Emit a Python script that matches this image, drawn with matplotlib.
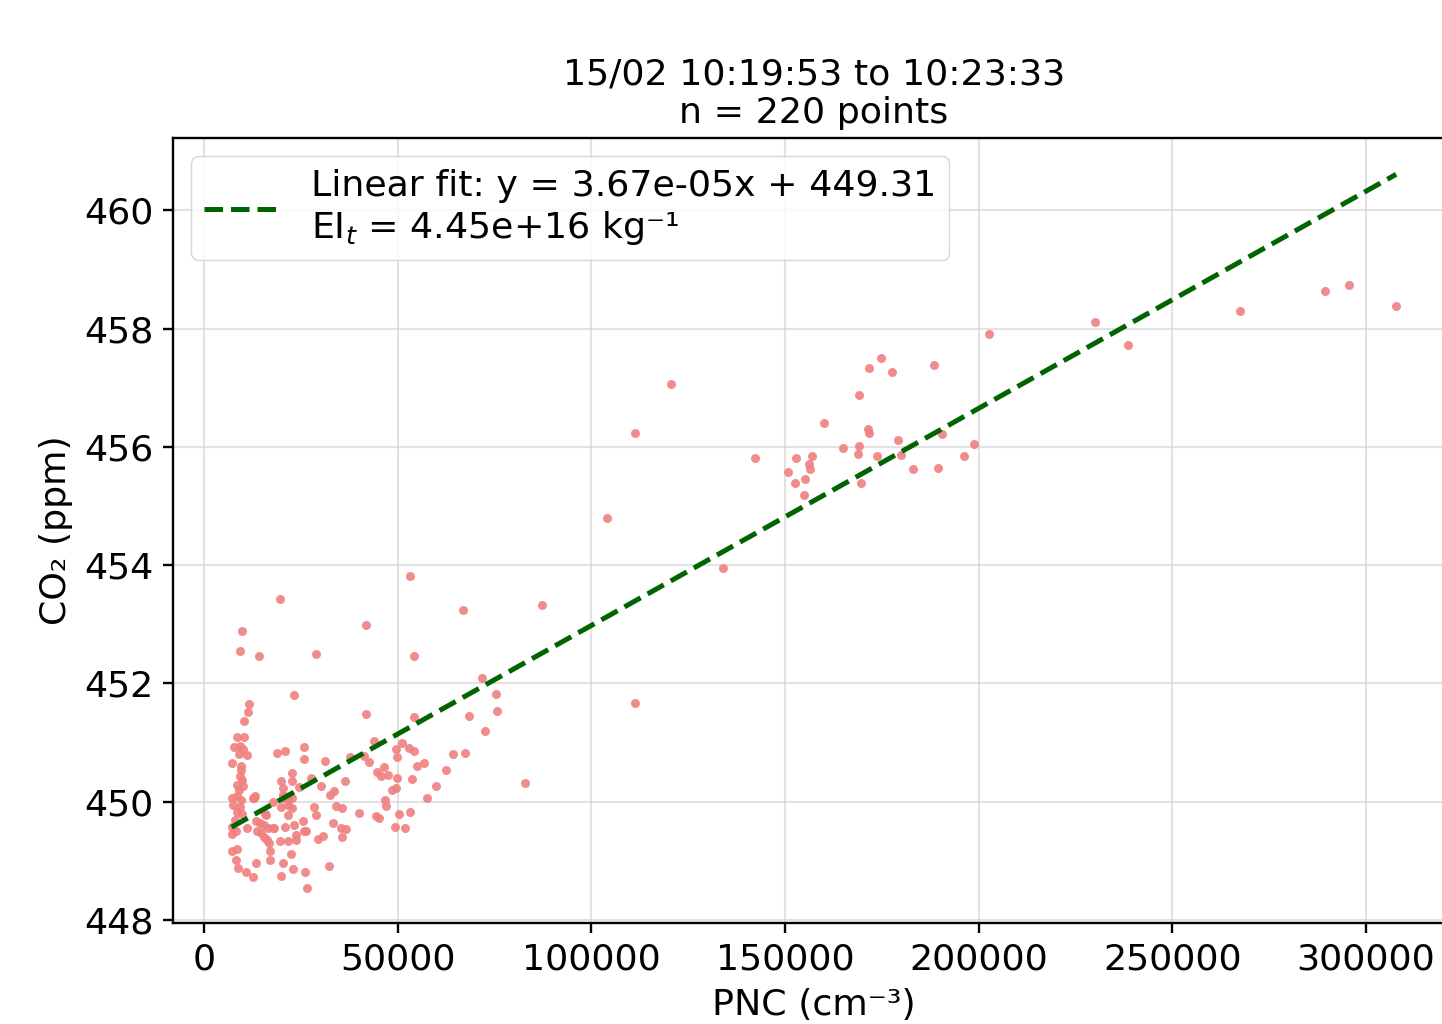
import numpy as np
import matplotlib
matplotlib.use("Agg")
import matplotlib.pyplot as plt

# values
pnc = [
    230000, 238500, 267400, 289400, 295600, 307800, 202700, 174900, 171700, 177600,
    188500, 169100, 160000, 171500, 171700, 179200, 190500, 198700, 164900, 169100,
    168800, 173700, 180000, 196300, 183000, 189500, 169700, 156900, 152800, 156200,
    156500, 150900, 155300, 152500, 154900, 142300, 120500, 111400, 104100, 134100,
    111400,
    53300, 66900, 87200, 41700, 28900, 54100, 41800, 54300, 71800, 75500,
    75700, 68500, 72500, 64200, 67500, 62400, 60000, 57600, 82900, 25800,
    25800, 31200, 27500, 24500, 30300, 33500, 32400, 36500, 37800, 41200,
    42600, 43900, 44600, 45700, 46500, 47600, 49500, 49700, 51200, 53000,
    54300, 55100, 56900, 49700, 53700, 48600, 49600, 46800, 47000, 28400,
    28900, 25600, 25800, 26400, 29300, 30700, 33300, 34200, 35500, 35400,
    36600, 35600, 40000, 44500, 45100, 49200, 50400, 51900, 53200, 26000,
    32300, 26600,
    19500, 9700, 9400, 14300, 23300, 11600, 11300, 10300, 8400, 10300,
    7800, 9400, 10100, 11200, 9100, 7300, 9500, 9500, 9300, 9700,
    10000, 8400, 9000, 8400, 7300, 9500, 7600, 9300, 8400, 9900,
    7900, 7100, 8200, 7100, 11200, 12700, 13100, 13400, 14500, 15500,
    13600, 14600, 15800, 16400, 15500, 16200, 16800, 17100, 17100, 17900,
    19500, 20500, 20000, 22400, 23100, 21800, 23700, 23700, 20900, 23300,
    21800, 17800, 20000, 20500, 20500, 22800, 21700, 22800, 20000, 20400,
    22600, 22600, 18800, 20900, 13400, 10800, 8800, 8200, 7300, 8600,
    12700, 21800, 16000, 12800, 18000,
]
co2 = [
    458.11, 457.72, 458.30, 458.63, 458.73, 458.38, 457.91, 457.51, 457.34, 457.27,
    457.38, 456.87, 456.41, 456.30, 456.24, 456.11, 456.22, 456.05, 455.98, 456.02,
    455.88, 455.84, 455.86, 455.85, 455.62, 455.64, 455.39, 455.85, 455.81, 455.71,
    455.62, 455.57, 455.45, 455.39, 455.18, 455.81, 457.06, 456.23, 454.80, 453.95,
    451.67,
    453.82, 453.25, 453.32, 452.99, 452.50, 452.47, 451.48, 451.44, 452.10, 451.83,
    451.53, 451.45, 451.20, 450.81, 450.83, 450.54, 450.27, 450.06, 450.32, 450.93,
    450.72, 450.69, 450.41, 450.25, 450.27, 450.19, 450.11, 450.35, 450.75, 450.77,
    450.67, 451.03, 450.51, 450.43, 450.58, 450.45, 450.90, 450.76, 451.00, 450.91,
    450.86, 450.61, 450.65, 450.40, 450.38, 450.20, 450.23, 450.03, 449.92, 449.91,
    449.77, 449.67, 449.50, 449.50, 449.37, 449.42, 449.64, 449.93, 449.89, 449.56,
    449.54, 449.41, 449.81, 449.76, 449.73, 449.58, 449.80, 449.56, 449.83, 448.81,
    448.91, 448.55,
    453.43, 452.88, 452.55, 452.46, 451.81, 451.66, 451.51, 451.37, 451.10, 451.10,
    450.92, 450.94, 450.89, 450.79, 450.81, 450.65, 450.61, 450.53, 450.44, 450.36,
    450.27, 450.28, 450.20, 450.10, 450.06, 450.03, 449.94, 449.91, 449.83, 449.80,
    449.69, 449.58, 449.50, 449.45, 449.56, 450.07, 450.10, 449.67, 449.64, 449.60,
    449.50, 449.47, 449.80, 449.55, 449.41, 449.36, 449.30, 449.16, 449.02, 449.56,
    449.33, 448.96, 448.74, 449.11, 448.86, 449.33, 449.36, 449.44, 449.58, 449.61,
    449.78, 450.00, 449.91, 450.06, 450.12, 450.06, 449.94, 449.89, 450.35, 450.24,
    450.49, 450.35, 450.82, 450.86, 448.96, 448.82, 448.88, 449.02, 449.17, 449.20,
    448.72, 450.03, 449.78, 450.06, 449.56,
]
slope = 3.67e-05
intercept = 449.31
ei_t = "4.45e+16"
title = "15/02 10:19:53 to 10:23:33\nn = 220 points"

fs = 26.2
plt.rcParams.update({
    "font.size": fs,
    "axes.linewidth": 1.7,
    "xtick.major.size": 7,
    "ytick.major.size": 7,
    "xtick.major.width": 1.7,
    "ytick.major.width": 1.7,
    "xtick.major.pad": 7,
    "ytick.major.pad": 7,
})

fig = plt.figure(figsize=(14.42, 10.24), dpi=100)
ax = fig.add_axes([0.120, 0.0986, 0.889, 0.7666])

x = np.array(pnc)
y = np.array(co2)
ax.scatter(x, y, s=42, color="#F08080", alpha=0.9, linewidths=0, zorder=2)

xf = np.linspace(x.min(), x.max(), 100)
ax.plot(xf, slope * xf + intercept, "--", color="darkgreen", lw=3.6,
        label=f"Linear fit: y = {slope:.2e}x + {intercept:.2f}\nEI$_t$ = {ei_t} kg\u207b\u00b9",
        zorder=3)

ax.set_xlim(-8000, 323000)
ax.set_ylim(447.95, 461.22)
ax.set_xticks([0, 50000, 100000, 150000, 200000, 250000, 300000])
ax.set_yticks([448, 450, 452, 454, 456, 458, 460])
ax.grid(True, color="#d0d0d0", alpha=0.6, lw=1.5)
ax.set_axisbelow(True)

ax.set_xlabel("PNC (cm\u207b\u00b3)", labelpad=8)
ax.set_ylabel("CO\u2082 (ppm)", labelpad=8)
ax.set_title(title, fontsize=fs, pad=11, linespacing=1.15)
ax.legend(loc="upper left", fontsize=fs, handlelength=2.0, handletextpad=0.95,
          borderpad=0.35, borderaxespad=0.5, framealpha=0.8)

fig.savefig("out.png", dpi=100)
